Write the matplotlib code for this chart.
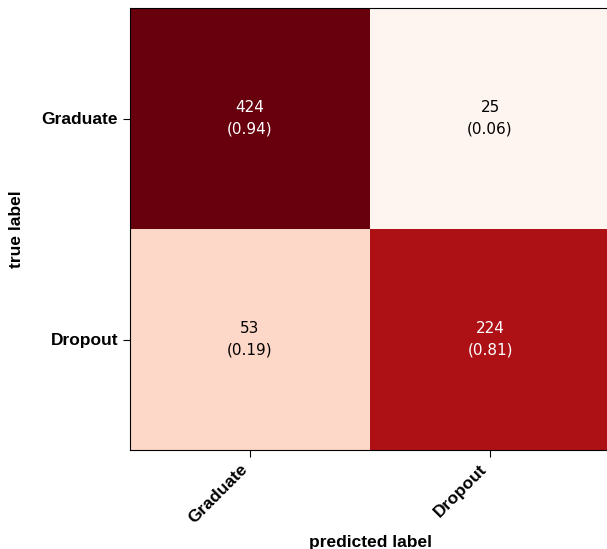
import numpy as np
import matplotlib
matplotlib.use("Agg")
import matplotlib.pyplot as plt

class_names = ["Graduate", "Dropout"]
counts = np.array([[424, 25],
                   [53, 224]])

normed = counts / counts.sum(axis=1, keepdims=True)

fig = plt.figure(figsize=(6.07, 5.49), dpi=100)
ax = fig.add_axes([130 / 607, 99 / 549, 480 / 607, 442 / 549])

ax.imshow(normed, cmap="Reds", aspect="auto", interpolation="nearest")

thresh = normed.max() / 2.0
for i in range(counts.shape[0]):
    for j in range(counts.shape[1]):
        label = f"{counts[i, j]}\n({normed[i, j]:.2f})"
        color = "white" if normed[i, j] > thresh else "black"
        ax.text(j, i, label, ha="center", va="center", color=color,
                fontsize=11, linespacing=1.55)

label_font = {"family": "Liberation Sans", "weight": "bold", "size": 12.5}
ax.set_xticks(range(len(class_names)))
ax.set_yticks(range(len(class_names)))
ax.set_xticklabels(class_names, rotation=45, ha="right", fontdict=label_font)
ax.set_yticklabels(class_names, fontdict=label_font)
ax.set_xlabel("predicted label", fontdict=label_font, labelpad=6)
ax.set_ylabel("true label", fontdict=label_font, labelpad=13)
ax.tick_params(length=5)

fig.savefig("out.png", dpi=100)
